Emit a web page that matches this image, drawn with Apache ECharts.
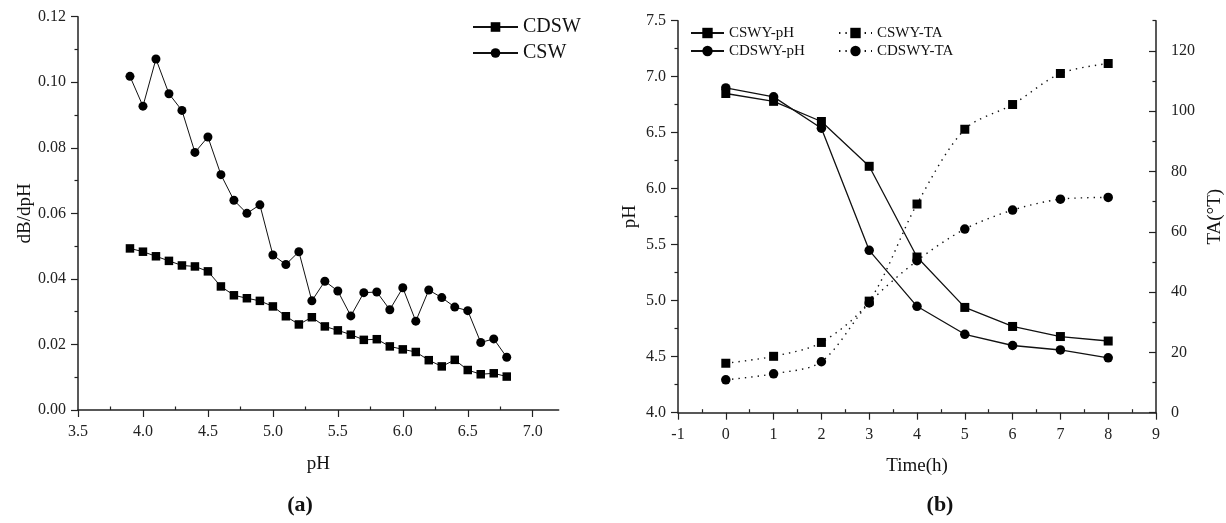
<!DOCTYPE html>
<html>
<head>
<meta charset="utf-8">
<script src="https://cdn.jsdelivr.net/npm/echarts@6/dist/echarts.min.js"></script>
<style>
html,body{margin:0;padding:0;background:#fff;}
#c{width:1226px;height:523px;}
</style>
</head>
<body>
<div id="c"></div>
<script>
// ---------- Data: chart (a) ----------
var phA = [3.9,4.0,4.1,4.2,4.3,4.4,4.5,4.6,4.7,4.8,4.9,5.0,5.1,5.2,5.3,5.4,5.5,5.6,5.7,5.8,5.9,6.0,6.1,6.2,6.3,6.4,6.5,6.6,6.7,6.8];
var cdsw = [0.0493,0.0483,0.0469,0.0455,0.0441,0.0438,0.0423,0.0377,0.0350,0.0341,0.0333,0.0316,0.0286,0.0261,0.0283,0.0255,0.0243,0.0230,0.0214,0.0216,0.0194,0.0185,0.0177,0.0152,0.0133,0.0153,0.0122,0.0109,0.0112,0.0102];
var csw  = [0.1018,0.0927,0.1071,0.0965,0.0914,0.0786,0.0833,0.0718,0.0640,0.0600,0.0626,0.0473,0.0444,0.0483,0.0333,0.0393,0.0363,0.0287,0.0358,0.0360,0.0306,0.0373,0.0271,0.0366,0.0343,0.0314,0.0303,0.0206,0.0217,0.0161];
var xTicksA = [3.5,4.0,4.5,5.0,5.5,6.0,6.5,7.0];
var xMinorA = [3.75,4.25,4.75,5.25,5.75,6.25,6.75];
var yTicksA = [0,0.02,0.04,0.06,0.08,0.10,0.12];
var yMinorA = [0.01,0.03,0.05,0.07,0.09,0.11];

// ---------- Data: chart (b) ----------
var timeB = [0,1,2,3,4,5,6,7,8];
var cswyPH  = [6.85,6.78,6.60,6.20,5.39,4.94,4.77,4.68,4.64];
var cdswyPH = [6.90,6.82,6.54,5.45,4.95,4.70,4.60,4.56,4.49];
var cswyTA  = [16.4,18.7,23.3,37.0,69.2,94.0,102.2,112.5,115.8];
var cdswyTA = [10.9,12.9,16.9,36.4,50.4,60.9,67.2,70.8,71.4];
var xTicksB = [-1,0,1,2,3,4,5,6,7,8,9];
var xMinorB = [-0.5,0.5,1.5,2.5,3.5,4.5,5.5,6.5,7.5,8.5];
var yTicksB = [4.0,4.5,5.0,5.5,6.0,6.5,7.0,7.5];
var yMinorB = [4.25,4.75,5.25,5.75,6.25,6.75,7.25];
var taTicks = [0,20,40,60,80,100,120];
var taMinor = [10,30,50,70,90,110,130];

function pairs(xs, ys){ return xs.map(function(x,i){ return [x, ys[i]]; }); }

var FONT = "'Liberation Serif','Times New Roman',serif";
var AX = '#222';

function mainAxis(o){
  var base = {
    type:'value',
    axisLine:{show:true, onZero:false, lineStyle:{color:AX, width:1.5}},
    axisTick:{show:true, inside:false, length:7, lineStyle:{color:AX, width:1.2}},
    axisLabel:{color:'#222', fontFamily:FONT, fontSize:16},
    splitLine:{show:false},
    nameTextStyle:{color:'#111', fontFamily:FONT, fontSize:19},
    nameLocation:'middle'
  };
  for (var k in o){
    if (typeof o[k]==='object' && !Array.isArray(o[k]) && base[k]) {
      for (var j in o[k]) base[k][j]=o[k][j];
    } else base[k]=o[k];
  }
  return base;
}
function minorAxis(o){
  var base = {
    type:'value',
    axisLine:{show:false, onZero:false},
    axisLabel:{show:false},
    splitLine:{show:false},
    axisTick:{show:true, length:3.5, lineStyle:{color:AX, width:1.2}}
  };
  for (var k in o){
    if (k==='axisTick'){ for (var j in o[k]) base.axisTick[j]=o[k][j]; }
    else base[k]=o[k];
  }
  return base;
}

var chart = echarts.init(document.getElementById('c'), null, {renderer:'canvas'});
var option = {
  animation:false,
  backgroundColor:'#fff',
  grid:[
    {left:78, top:16.7, width:480.7, height:393.3},
    {left:678, top:20.7, width:485.7, height:392}
  ],
  xAxis:[
    mainAxis({gridIndex:0, min:3.5, max:7.2, position:'bottom', name:'pH', nameGap:45,
      axisTick:{customValues:xTicksA},
      axisLabel:{customValues:xTicksA, margin:14, formatter:function(v){return v.toFixed(1);}}}),
    minorAxis({gridIndex:0, min:3.5, max:7.2, position:'bottom', axisTick:{inside:true, customValues:xMinorA}}),
    mainAxis({gridIndex:1, min:-1, max:9, position:'bottom', name:'Time(h)', nameGap:44,
      axisTick:{customValues:xTicksB},
      axisLabel:{customValues:xTicksB, margin:14}}),
    minorAxis({gridIndex:1, min:-1, max:9, position:'bottom', axisTick:{inside:true, customValues:xMinorB}})
  ],
  yAxis:[
    mainAxis({gridIndex:0, min:0, max:0.12, position:'left', name:'dB/dpH', nameGap:37,
      axisTick:{customValues:yTicksA},
      axisLabel:{customValues:yTicksA, margin:12, formatter:function(v){return v.toFixed(2);}}}),
    minorAxis({gridIndex:0, min:0, max:0.12, position:'left', axisTick:{inside:false, customValues:yMinorA}}),
    mainAxis({gridIndex:1, min:4, max:7.5, position:'left', name:'pH', nameGap:38,
      axisTick:{customValues:yTicksB},
      axisLabel:{customValues:yTicksB, margin:12, formatter:function(v){return v.toFixed(1);}}}),
    minorAxis({gridIndex:1, min:4, max:7.5, position:'left', axisTick:{inside:false, customValues:yMinorB}}),
    mainAxis({gridIndex:1, min:0, max:130, position:'right', name:'TA(°T)', nameGap:50,
      axisTick:{inside:true, customValues:taTicks},
      axisLabel:{customValues:taTicks, margin:15}}),
    minorAxis({gridIndex:1, min:0, max:130, position:'right', axisTick:{inside:true, customValues:taMinor}})
  ],
  legend:[
    {orient:'vertical', left:472, top:17, padding:0, itemWidth:45, itemHeight:12, itemGap:6,
      data:['CDSW','CSW'], textStyle:{fontFamily:FONT, fontSize:20, color:'#111', lineHeight:20}},
    {orient:'vertical', left:690, top:25.5, padding:0, itemWidth:33, itemHeight:13, itemGap:3,
      data:['CSWY-pH','CDSWY-pH'], textStyle:{fontFamily:FONT, fontSize:15, color:'#111', lineHeight:15}},
    {orient:'vertical', left:838, top:25.5, padding:0, itemWidth:33, itemHeight:13, itemGap:3,
      data:['CSWY-TA','CDSWY-TA'], textStyle:{fontFamily:FONT, fontSize:15, color:'#111', lineHeight:15}}
  ],
  graphic:[
    {type:'text', style:{text:'(a)', font:'bold 22px '+FONT, fill:'#111', textAlign:'center', textVerticalAlign:'middle'}, position:[300,505]},
    {type:'text', style:{text:'(b)', font:'bold 22px '+FONT, fill:'#111', textAlign:'center', textVerticalAlign:'middle'}, position:[940,505]}
  ],
  series:[
    {name:'CDSW', type:'line', xAxisIndex:0, yAxisIndex:0, data:pairs(phA, cdsw),
      symbol:'rect', symbolSize:8.5, itemStyle:{color:'#000'}, lineStyle:{color:'#111', width:1}},
    {name:'CSW', type:'line', xAxisIndex:0, yAxisIndex:0, data:pairs(phA, csw),
      symbol:'circle', symbolSize:9, itemStyle:{color:'#000'}, lineStyle:{color:'#111', width:1}},
    {name:'CSWY-pH', type:'line', xAxisIndex:2, yAxisIndex:2, data:pairs(timeB, cswyPH),
      symbol:'rect', symbolSize:9, itemStyle:{color:'#000'}, lineStyle:{color:'#111', width:1.3}},
    {name:'CDSWY-pH', type:'line', xAxisIndex:2, yAxisIndex:2, data:pairs(timeB, cdswyPH),
      symbol:'circle', symbolSize:9.5, itemStyle:{color:'#000'}, lineStyle:{color:'#111', width:1.3}},
    {name:'CSWY-TA', type:'line', xAxisIndex:2, yAxisIndex:4, data:pairs(timeB, cswyTA), smooth:0.3,
      symbol:'rect', symbolSize:9, itemStyle:{color:'#000'}, lineStyle:{color:'#111', width:1.4, type:[1.4,5]}},
    {name:'CDSWY-TA', type:'line', xAxisIndex:2, yAxisIndex:4, data:pairs(timeB, cdswyTA), smooth:0.3,
      symbol:'circle', symbolSize:9.5, itemStyle:{color:'#000'}, lineStyle:{color:'#111', width:1.4, type:[1.4,5]}}
  ]
};
chart.setOption(option);
</script>
</body>
</html>
